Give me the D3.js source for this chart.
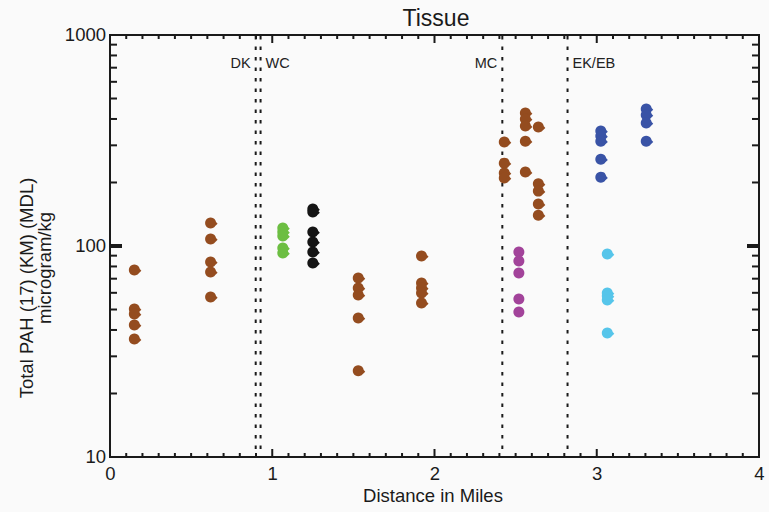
<!DOCTYPE html>
<html>
<head>
<meta charset="utf-8">
<script src="https://cdn.jsdelivr.net/npm/d3@7"></script>
<style>
  html, body { margin: 0; padding: 0; background: #fafafa; }
  svg { display: block; font-family: "Liberation Sans", Arial, sans-serif; }
</style>
</head>
<body>
<svg id="chart" width="769" height="512"></svg>
<script>
// Sampling stations: distance (miles) and measured totals (microgram/kg)
const brownX = [0.15, 0.62, 1.53, 1.92, 2.43, 2.56, 2.64];
const brownValues = [
  [76.9, 50.3, 47.6, 42.2, 36.2],
  [128.5, 107.9, 84.0, 75.3, 57.3],
  [70.5, 63.2, 58.6, 45.6, 25.6],
  [89.7, 66.8, 63.2, 59.9, 53.7],
  [311, 247, 222, 210],
  [427, 400, 370, 314, 224],
  [366, 197, 182, 158, 140]
];
const greenX = [1.065];
const greenValues = [[121.7, 116.5, 111.5, 97.8, 92.6]];
const blackX = [1.25];
const blackValues = [[149.7, 144.9, 116.5, 104.5, 93.7, 83.0]];
const purpleX = [2.52];
const purpleValues = [[93.7, 84.9, 74.5, 56.1, 48.7]];
const cyanX = [3.065];
const cyanValues = [[91.6, 59.9, 57.9, 55.5, 38.7]];
const blueX = [3.025, 3.305];
const blueValues = [
  [351, 332, 314, 258, 212],
  [446, 418, 383, 314]
];

// Reach boundaries with their labels
const boundaryX = [0.898, 0.928, 2.418, 2.82];
const reachLabels = [
  { text: "DK", x: 0.898, anchor: "end" },
  { text: "WC", x: 0.928, anchor: "start" },
  { text: "MC", x: 2.418, anchor: "end" },
  { text: "EK/EB", x: 2.82, anchor: "start" }
];

const xTicks = [0, 1, 2, 3, 4];
const yTicks = [10, 100, 1000];

const svg = d3.select("#chart");
const pL = 110, pR = 759, pT = 35, pB = 457;

const x = d3.scaleLinear().domain([0, 4]).range([pL, pR]);
const y = d3.scaleLog().domain([10, 1000]).range([pB, pT]);

const ink = "#1a1a1a";
const labelSize = 18.5;

// Title
svg.append("text").attr("x", 436).attr("y", 26)
  .attr("text-anchor", "middle").attr("font-size", 23).attr("fill", ink)
  .text("Tissue");

// Axis titles
svg.append("text").attr("x", 433).attr("y", 502)
  .attr("text-anchor", "middle").attr("font-size", labelSize).attr("fill", ink)
  .text("Distance in Miles");
svg.append("text")
  .attr("transform", `translate(33,288) rotate(-90)`)
  .attr("text-anchor", "middle").attr("font-size", labelSize).attr("fill", ink)
  .text("Total PAH (17) (KM) (MDL)");
svg.append("text")
  .attr("transform", `translate(51,268) rotate(-90)`)
  .attr("text-anchor", "middle").attr("font-size", labelSize).attr("fill", ink)
  .text("microgram/kg");

// Frame
svg.append("rect").attr("x", pL).attr("y", pT)
  .attr("width", pR - pL).attr("height", pB - pT)
  .attr("fill", "none").attr("stroke", ink).attr("stroke-width", 2);

// X ticks: minor every 0.1, major at integers (bottom and top)
const xMinor = d3.range(0, 40.5, 1).map(d => d / 10);
const gx = svg.append("g");
xMinor.forEach(v => {
  const major = Math.abs(v - Math.round(v)) < 1e-9;
  const len = major ? 8 : 4;
  gx.append("line").attr("x1", x(v)).attr("x2", x(v))
    .attr("y1", pB).attr("y2", pB - len)
    .attr("stroke", ink).attr("stroke-width", 2);
  gx.append("line").attr("x1", x(v)).attr("x2", x(v))
    .attr("y1", pT).attr("y2", pT + len)
    .attr("stroke", ink).attr("stroke-width", 2);
});
const xAxis = d3.axisBottom(x).tickValues(xTicks).tickFormat(d3.format("d")).tickSize(0).tickPadding(10);
const gxa = svg.append("g").attr("transform", `translate(0,${pB})`).call(xAxis);
gxa.select(".domain").remove();
gxa.selectAll("text").attr("font-size", labelSize).attr("fill", ink)
  .attr("font-family", "Liberation Sans, Arial, sans-serif");

// Y ticks: log minor ticks, thick major at 100
const yMinor = [];
[10, 100].forEach(dec => { for (let k = 2; k <= 9; k++) yMinor.push(dec * k); });
const gy = svg.append("g");
yMinor.forEach(v => {
  gy.append("line").attr("x1", pL).attr("x2", pL + 7)
    .attr("y1", y(v)).attr("y2", y(v)).attr("stroke", ink).attr("stroke-width", 2);
  gy.append("line").attr("x1", pR).attr("x2", pR - 7)
    .attr("y1", y(v)).attr("y2", y(v)).attr("stroke", ink).attr("stroke-width", 2);
});
gy.append("line").attr("x1", pL).attr("x2", pL + 12)
  .attr("y1", y(100)).attr("y2", y(100)).attr("stroke", ink).attr("stroke-width", 4);
gy.append("line").attr("x1", pR).attr("x2", pR - 12)
  .attr("y1", y(100)).attr("y2", y(100)).attr("stroke", ink).attr("stroke-width", 4);
const yAxis = d3.axisLeft(y).tickValues(yTicks).tickFormat(d3.format("d")).tickSize(0).tickPadding(4);
const gya = svg.append("g").attr("transform", `translate(${pL},0)`).call(yAxis);
gya.select(".domain").remove();
gya.selectAll("text").attr("font-size", labelSize).attr("fill", ink)
  .attr("font-family", "Liberation Sans, Arial, sans-serif");

// Reach boundaries
svg.append("g").selectAll("line").data(boundaryX).join("line")
  .attr("x1", d => x(d)).attr("x2", d => x(d))
  .attr("y1", pT + 1).attr("y2", pB - 1)
  .attr("stroke", ink).attr("stroke-width", 2)
  .attr("stroke-dasharray", "3.5,7");
svg.append("g").selectAll("text").data(reachLabels).join("text")
  .attr("x", d => x(d.x) + (d.anchor === "end" ? -5 : 5))
  .attr("y", 68).attr("text-anchor", d => d.anchor)
  .attr("font-size", 14.5).attr("fill", "#222")
  .text(d => d.text);

// Markers: round symbol with a slight point on the right
const dropPath = "M5.5,0 A5.5,5.5 0 1,1 5.5,-0.01 Z M3,-3.8 L7,0.8 L3,4.6 Z";
const circlePath = "M5.5,0 A5.5,5.5 0 1,1 5.5,-0.01 Z";

function drawGroup(xs, vals, color, path) {
  const pts = [];
  xs.forEach((xv, i) => vals[i].forEach(v => pts.push({ x: xv, v })));
  svg.append("g").selectAll("path").data(pts).join("path")
    .attr("d", path)
    .attr("transform", d => `translate(${x(d.x)},${y(d.v)})`)
    .attr("fill", color);
}

drawGroup(brownX, brownValues, "#944c1f", dropPath);
drawGroup(greenX, greenValues, "#6cbe42", dropPath);
drawGroup(blackX, blackValues, "#151515", dropPath);
drawGroup(purpleX, purpleValues, "#a2439a", circlePath);
drawGroup(cyanX, cyanValues, "#56c5ea", dropPath);
drawGroup(blueX, blueValues, "#3953a6", dropPath);
</script>
</body>
</html>
